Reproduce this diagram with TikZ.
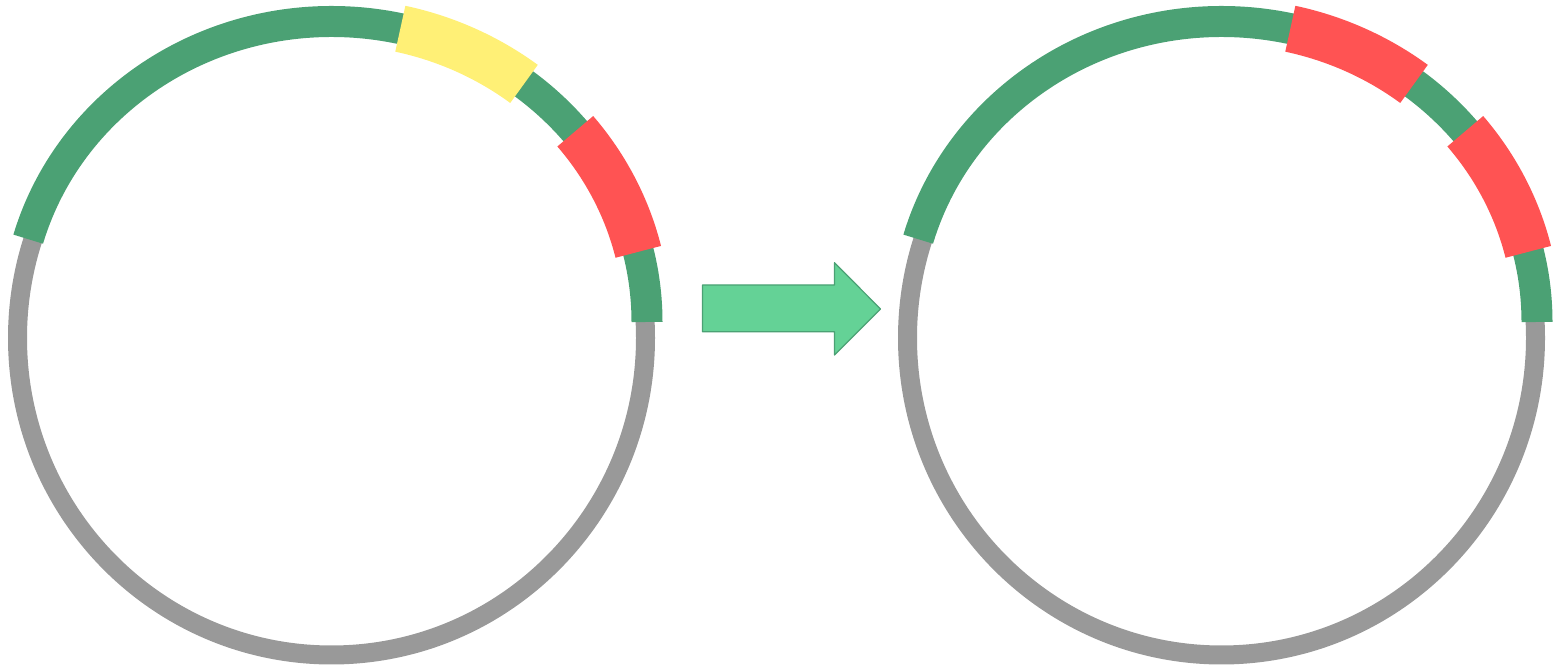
\documentclass[tikz,border=0pt]{standalone}
\definecolor{ringgray}{RGB}{153,153,153}
\definecolor{genegreen}{RGB}{75,161,116}
\definecolor{markyellow}{RGB}{255,240,118}
\definecolor{markred}{RGB}{255,83,83}
\definecolor{arrowfill}{RGB}{100,210,150}
\begin{document}
\begin{tikzpicture}[x=0.5pt,y=0.5pt,line join=round,
		ring/.style={draw=ringgray,line width=9.5pt},
		gene/.style={draw=genegreen,line width=15.5pt},
		insert/.style={line width=23.5pt}]
	\useasboundingbox (0,0) rectangle (1554,668);
	\coordinate (L) at (331.5,330); % plasmid before
	\coordinate (R) at (1221.5,330); % plasmid after
	\coordinate (Lg) at (331.5,346);
	\coordinate (Rg) at (1221.5,346);
	
	\foreach \c in {L,R}{
		\draw[ring] (\c) ellipse [x radius=314, y radius=317];
		\draw[gene] (\c g) ++(0:315.5 and 300.5) arc [start angle=0, end angle=164, x radius=315.5, y radius=300.5];
		\draw[insert,draw=markred] (\c g) ++(13.5:315.5 and 300.5) arc [start angle=13.5, end angle=39.4, x radius=315.5, y radius=300.5];
	}
	\draw[insert,draw=markyellow] (Lg) ++(52.4:315.5 and 300.5) arc [start angle=52.4, end angle=77.4, x radius=315.5, y radius=300.5];
	\draw[insert,draw=markred] (Rg) ++(52.4:315.5 and 300.5) arc [start angle=52.4, end angle=77.4, x radius=315.5, y radius=300.5];
	
	% block arrow
	\coordinate (S1) at (702.5,383);
	\coordinate (S2) at (834.5,383);
	\coordinate (H1) at (834.5,405.3);
	\coordinate (T) at (880.5,359);
	\coordinate (H2) at (834.5,313);
	\coordinate (S3) at (834.5,336.3);
	\coordinate (S4) at (702.5,336.3);
	\draw[draw=genegreen,fill=arrowfill,line width=0.6pt] (S1) -- (S2) -- (H1) -- (T) -- (H2) -- (S3) -- (S4) -- cycle;
\end{tikzpicture}
\end{document}
